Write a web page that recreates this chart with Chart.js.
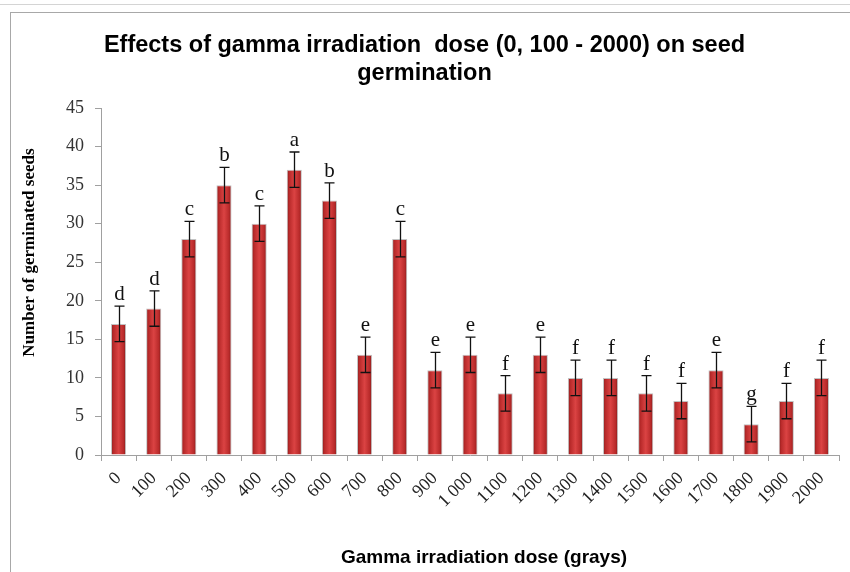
<!DOCTYPE html>
<html>
<head>
<meta charset="utf-8">
<title>Gamma irradiation and seed germination</title>
<script src="https://cdn.jsdelivr.net/npm/chart.js@4"></script>
<style>
  html, body { margin: 0; padding: 0; background: #fff; }
  #wrap { position: relative; width: 850px; height: 572px; overflow: hidden; }
  #topline { position: absolute; left: 0; top: 4px; width: 850px; border-top: 1px solid #d4d4d4; }
  #frame { position: absolute; left: 10px; top: 12px; width: 900px; height: 700px; border: 1px solid #a8a8a8; }
  #chart { position: absolute; left: 0; top: 0; }
</style>
</head>
<body>
<div id="wrap">
  <div id="topline"></div>
  <div id="frame"></div>
  <canvas id="chart" width="850" height="572"></canvas>
</div>
<script>
// dose (grays) on the x axis
const doses = ['0', '100', '200', '300', '400', '500', '600', '700', '800', '900', '1 000',
  '1100', '1200', '1300', '1400', '1500', '1600', '1700', '1800', '1900', '2000'];
// mean germinated seeds
const seeds = [17, 19, 28, 35, 30, 37, 33, 13, 28, 11, 13, 8, 13, 10, 10, 8, 7, 11, 4, 7, 10];
// error bar half-width
const errors = [2.3, 2.3, 2.3, 2.3, 2.3, 2.3, 2.3, 2.3, 2.3, 2.3, 2.3,
  2.3, 2.3, 2.3, 2.3, 2.3, 2.3, 2.3, 2.3, 2.3, 2.3];
// significance letters
const letters = ['d', 'd', 'c', 'b', 'c', 'a', 'b', 'e', 'c', 'e', 'e',
  'f', 'e', 'f', 'f', 'f', 'f', 'e', 'g', 'f', 'f'];

const titleLines = ['Effects of gamma irradiation  dose (0, 100 - 2000) on seed', 'germination'];
const yTitle = 'Number of germinated seeds';
const xTitle = 'Gamma irradiation dose (grays)';
const serif = '"Liberation Serif", "Times New Roman", serif';
const sans = '"Liberation Sans", Arial, sans-serif';

// error bars, letters and the two axis titles
const errorBars = {
  id: 'errorBars',
  afterDatasetsDraw(chart) {
    const { ctx, chartArea, scales: { x, y } } = chart;
    ctx.save();
    ctx.strokeStyle = '#111';
    ctx.lineWidth = 1.3;
    ctx.font = '21px ' + serif;
    ctx.fillStyle = '#111';
    ctx.textAlign = 'center';
    ctx.textBaseline = 'alphabetic';
    seeds.forEach((v, i) => {
      const cx = Math.round(x.getPixelForValue(i)) + 0.5;
      const top = y.getPixelForValue(v + errors[i]);
      const bot = y.getPixelForValue(v - errors[i]);
      ctx.beginPath();
      ctx.moveTo(cx, top); ctx.lineTo(cx, bot);
      ctx.moveTo(cx - 5, top); ctx.lineTo(cx + 5, top);
      ctx.moveTo(cx - 5, bot); ctx.lineTo(cx + 5, bot);
      ctx.stroke();
      ctx.fillText(letters[i], cx, top - 6);
    });

    // titles are a little off-centre in the original
    ctx.fillStyle = '#000';
    ctx.textBaseline = 'middle';
    ctx.font = 'bold 19px ' + sans;
    ctx.fillText(xTitle, (chartArea.left + chartArea.right) / 2 + 14, chart.height - 14);

    ctx.translate(30, (chartArea.top + chartArea.bottom) / 2 - 29);
    ctx.rotate(-Math.PI / 2);
    ctx.font = 'bold 17px ' + serif;
    ctx.fillText(yTitle, 0, 0);
    ctx.restore();
  }
};

function barFill(c) {
  const chart = c.chart;
  const x = chart.scales.x;
  if (!x || c.dataIndex === undefined) return '#c43535';
  const cx = x.getPixelForValue(c.dataIndex);
  if (!Number.isFinite(cx)) return '#c43535';
  const g = chart.ctx.createLinearGradient(cx - 8, 0, cx + 8, 0);
  g.addColorStop(0, '#7a1616');
  g.addColorStop(0.18, '#b82a2a');
  g.addColorStop(0.5, '#db4343');
  g.addColorStop(0.82, '#b82a2a');
  g.addColorStop(1, '#6e1313');
  return g;
}

new Chart(document.getElementById('chart'), {
  type: 'bar',
  data: {
    labels: doses,
    datasets: [{
      data: seeds,
      backgroundColor: barFill,
      borderColor: 'rgba(120,120,120,0.45)',
      borderWidth: 1,
      barPercentage: 0.43,
      categoryPercentage: 1
    }]
  },
  options: {
    responsive: false,
    animation: false,
    layout: { padding: { left: 10, right: 11, top: 0, bottom: 0 } },
    plugins: {
      legend: { display: false },
      tooltip: { enabled: false },
      title: {
        display: true,
        text: titleLines,
        color: '#000',
        font: { family: sans, size: 23.5, weight: 'bold', lineHeight: 1.15 },
        padding: { top: 32.5, bottom: 21.5 }
      }
    },
    scales: {
      x: {
        afterFit: s => { s.height = 117; },
        grid: { drawOnChartArea: false, drawTicks: true, tickLength: 6, color: '#a0a0a0' },
        border: { color: '#a0a0a0' },
        ticks: {
          autoSkip: false, maxRotation: 45, minRotation: 45, padding: 7, color: '#222',
          font: { family: serif, size: 18 }
        },
        title: { display: false }
      },
      y: {
        min: 0, max: 45,
        afterFit: s => { s.width = 91; },
        grid: { drawOnChartArea: false, drawTicks: true, tickLength: 6, color: '#a0a0a0' },
        border: { color: '#a0a0a0' },
        ticks: {
          stepSize: 5, padding: 11, color: '#333',
          font: { family: serif, size: 18 }
        },
        title: { display: false }
      }
    }
  },
  plugins: [errorBars]
});
</script>
</body>
</html>
